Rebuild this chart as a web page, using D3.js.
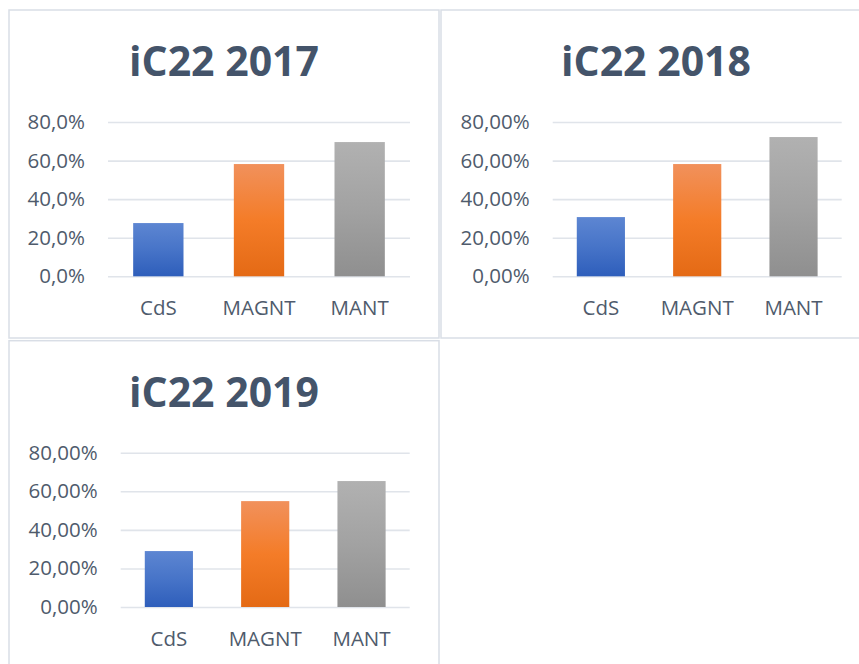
<!DOCTYPE html>
<html>
<head>
<meta charset="utf-8">
<script src="https://cdn.jsdelivr.net/npm/d3@7"></script>
<style>
  body { margin: 0; background: #fff; }
  svg { display: block; }
</style>
</head>
<body>
<div id="chart"></div>
<script>
const categories = ["CdS", "MAGNT", "MANT"];
const years = ["2017", "2018", "2019"];
const values2017 = [27.6, 58.2, 69.6];
const values2018 = [30.7, 58.2, 72.2];
const values2019 = [29.0, 54.9, 65.3];
const yTicks = [0, 20, 40, 60, 80];
const tickDecimals = [1, 2, 2];

const seriesByYear = [values2017, values2018, values2019];

// panel boxes (page coords) and plot extents inside each panel
const panels = [
    { x: 9, y: 10, plotX0: 99, plotX1: 401 },
    { x: 441, y: 10, plotX0: 111.7, plotX1: 400.7 },
    { x: 9, y: 340.7, plotX0: 111.7, plotX1: 400.7 }
];
const panelW = 430, panelH = 328;
const yTop = 112, yBottom = 266.3;

const barColors = [
    ["#5d86d2", "#4774c8", "#2e5ebb"],
    ["#f1915c", "#f47c28", "#e46a15"],
    ["#b1b1b1", "#a2a2a2", "#8f8f8f"]
];

const svg = d3.select("#chart").append("svg")
    .attr("width", 859)
    .attr("height", 664);

const defs = svg.append("defs");
barColors.forEach(function(c, i) {
    const g = defs.append("linearGradient")
        .attr("id", "grad" + i)
        .attr("x1", 0).attr("y1", 0)
        .attr("x2", 0).attr("y2", 1);
    g.append("stop").attr("offset", "0%").attr("stop-color", c[0]);
    g.append("stop").attr("offset", "50%").attr("stop-color", c[1]);
    g.append("stop").attr("offset", "100%").attr("stop-color", c[2]);
});

years.forEach(function(year, i) {
    const p = panels[i];
    const values = seriesByYear[i];
    const fmt = function(v) {
        return v.toFixed(tickDecimals[i]).replace(".", ",") + "%";
    };

    const g = svg.append("g")
        .attr("transform", `translate(${p.x},${p.y})`);

    g.append("rect")
        .attr("width", panelW)
        .attr("height", panelH)
        .attr("fill", "#fff")
        .attr("stroke", "#d9dee6")
        .attr("stroke-width", 1.5);

    g.append("text")
        .attr("x", panelW / 2)
        .attr("y", 66)
        .attr("text-anchor", "middle")
        .style("font-family", "'Open Sans', sans-serif")
        .style("font-weight", "bold")
        .style("font-size", "41px")
        .style("fill", "#44546a")
        .text("iC22 " + year);

    const x = d3.scaleBand()
        .domain(categories)
        .range([p.plotX0, p.plotX1])
        .paddingInner(0.5)
        .paddingOuter(0.25);

    const y = d3.scaleLinear()
        .domain([0, 80])
        .range([yBottom, yTop]);

    const yAxis = g.append("g")
        .attr("transform", `translate(${p.plotX0},0)`)
        .call(d3.axisLeft(y)
            .tickValues(yTicks)
            .tickFormat(fmt)
            .tickSize(-(p.plotX1 - p.plotX0))
            .tickPadding(23));
    yAxis.select(".domain").remove();
    yAxis.selectAll("line")
        .attr("stroke", "#e0e4ea")
        .attr("stroke-width", 1.6);
    yAxis.selectAll("text")
        .style("font-family", "'Open Sans', sans-serif")
        .style("font-size", "20.5px")
        .style("fill", "#4f5b6c");

    g.selectAll(".bar")
        .data(values)
        .enter()
        .append("rect")
            .attr("class", "bar")
            .attr("x", function(d, j) { return x(categories[j]); })
            .attr("y", function(d) { return y(d); })
            .attr("width", x.bandwidth())
            .attr("height", function(d) { return y(0) - y(d); })
            .attr("fill", function(d, j) { return "url(#grad" + j + ")"; });

    const xAxis = g.append("g")
        .attr("transform", `translate(0,${yBottom})`)
        .call(d3.axisBottom(x).tickSize(0).tickPadding(0));
    xAxis.select(".domain").remove();
    xAxis.selectAll("text")
        .attr("dy", 0)
        .attr("y", 38.7)
        .style("font-family", "'Open Sans', sans-serif")
        .style("font-size", "20.5px")
        .style("fill", "#4f5b6c");
});
</script>
</body>
</html>
